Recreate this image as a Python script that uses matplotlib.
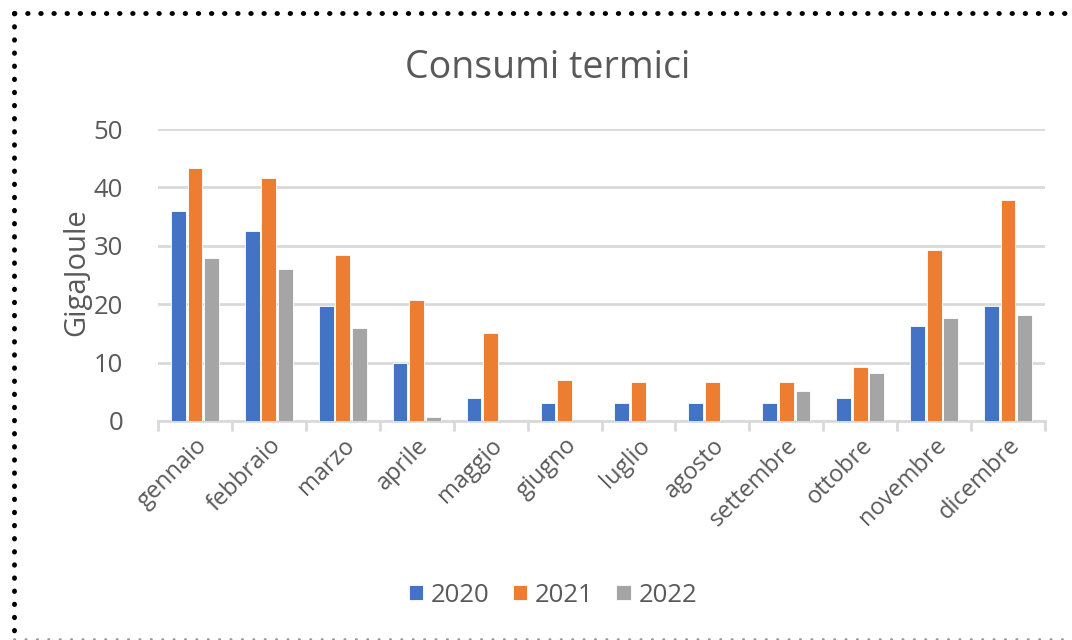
import numpy as np
import matplotlib
matplotlib.use("Agg")
import matplotlib.pyplot as plt
from matplotlib.lines import Line2D

plt.rcParams["font.family"] = ["Open Sans", "DejaVu Sans"]

months = ["gennaio", "febbraio", "marzo", "aprile", "maggio", "giugno",
          "luglio", "agosto", "settembre", "ottobre", "novembre", "dicembre"]
years = ["2020", "2021", "2022"]
v2020 = [36.0, 32.6, 19.7, 9.9, 3.9, 3.1, 3.1, 3.1, 3.1, 3.9, 16.3, 19.7]
v2021 = [43.4, 41.6, 28.4, 20.7, 15.0, 7.0, 6.7, 6.7, 6.7, 9.3, 29.2, 37.8]
v2022 = [27.9, 26.1, 16.0, 0.6, 0.0, 0.0, 0.0, 0.0, 5.2, 8.3, 17.6, 18.1]
colors = ["#4472C4", "#ED7D31", "#A5A5A5"]
text_col = "#595959"
grid_col = "#D9D9D9"

fig = plt.figure(figsize=(10.72, 6.4), dpi=100)
ax = fig.add_axes([158 / 1072, (640 - 421) / 640, (1045 - 158) / 1072, (421 - 129) / 640])

x = np.arange(len(months))
w = 0.2
for i, (vals, c, lab) in enumerate(zip([v2020, v2021, v2022], colors, years)):
    ax.bar(x + (i - 1) * 0.225, vals, width=w, color=c, edgecolor="white",
           linewidth=0.6, label=lab, zorder=3)

ax.set_xlim(-0.5, len(months) - 0.5)
ax.set_ylim(0, 50)
ax.set_yticks([0, 10, 20, 30, 40, 50])
ax.yaxis.grid(True, color=grid_col, linewidth=2, zorder=0)
ax.set_axisbelow(True)
for s in ["top", "right", "left"]:
    ax.spines[s].set_visible(False)
ax.spines["bottom"].set_color(grid_col)
ax.spines["bottom"].set_linewidth(2)

ax.set_xticks(x)
ax.set_xticklabels(months, rotation=45, ha="right", rotation_mode="anchor",
                   fontsize=17, color=text_col)
ax.tick_params(axis="x", which="major", length=0, pad=9)
ax.set_xticks(np.arange(-0.5, len(months)), minor=True)
ax.tick_params(axis="x", which="minor", length=7, width=2, color=grid_col)
ax.tick_params(axis="y", length=0, labelsize=18.5, labelcolor=text_col, pad=25)

ax.set_ylabel("GigaJoule", fontsize=21, color=text_col, va="center")
ax.yaxis.set_label_coords((77 - 158) / 887, 0.51)
fig.text(548 / 1072, 1 - 68 / 640, "Consumi termici", ha="center", va="center",
         fontsize=27, color=text_col)

handles, labels = ax.get_legend_handles_labels()
fig.legend(handles, labels, loc="center", bbox_to_anchor=(553 / 1072, 1 - 595 / 640),
           ncol=3, frameon=False, fontsize=18.5, labelcolor=text_col,
           handlelength=0.55, handleheight=0.55, handletextpad=0.3, columnspacing=0.9)

# dotted frame around the chart
fig.add_artist(Line2D([14 / 1072, 1.0], [1 - 13 / 640, 1 - 13 / 640], transform=fig.transFigure,
                      color="black", linestyle=(0, (0.1, 2.6)), linewidth=3.5,
                      dash_capstyle="round"))
fig.add_artist(Line2D([14 / 1072, 14 / 1072], [1 - 13 / 640, 1 / 640], transform=fig.transFigure,
                      color="black", linestyle=(0, (0.1, 2.6)), linewidth=3.5,
                      dash_capstyle="round"))
fig.add_artist(Line2D([14 / 1072, 1.0], [1 / 640, 1 / 640], transform=fig.transFigure,
                      color="#999999", linestyle=(0, (0.1, 4)), linewidth=2,
                      dash_capstyle="round"))

fig.savefig("out.png", dpi=100)
